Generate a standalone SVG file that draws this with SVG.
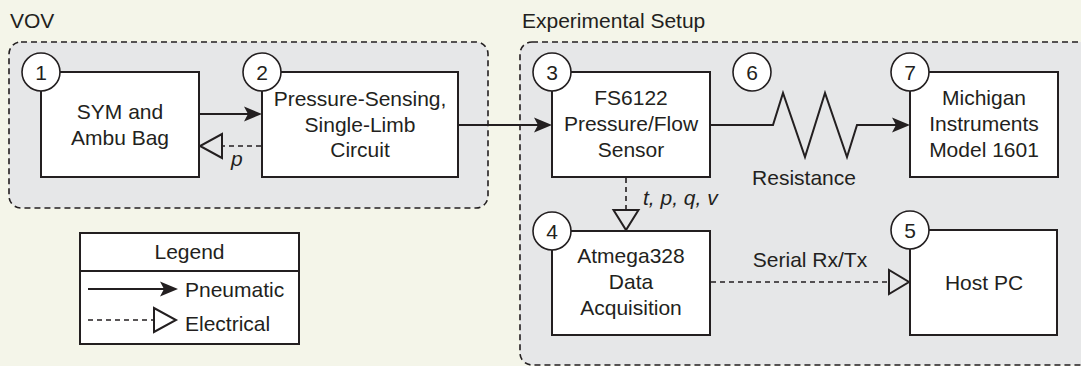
<svg xmlns="http://www.w3.org/2000/svg" width="1081" height="366" viewBox="0 0 1081 366">
  <style>
    text { font-family: "Liberation Sans", Arial, Helvetica, sans-serif; font-size: 21px; fill: #231f20; }
    .c { text-anchor: middle; }
    .it { font-style: italic; }
    .panel { fill: #e6e7e8; stroke: #231f20; stroke-width: 1.6; stroke-dasharray: 6 4; }
    .box { fill: #ffffff; stroke: #231f20; stroke-width: 2; }
    .num { fill: #ffffff; stroke: #231f20; stroke-width: 1.6; }
    .pn { fill: none; stroke: #231f20; stroke-width: 2; }
    .el { fill: none; stroke: #231f20; stroke-width: 1.6; stroke-dasharray: 5 4; }
    .tri { fill: none; stroke: #231f20; stroke-width: 2; stroke-linejoin: miter; }
    .head { fill: #231f20; stroke: none; }
  </style>

  <!-- page background -->
  <rect x="0" y="0" width="1081" height="366" fill="#f4f5e9"/>

  <!-- grouping panels -->
  <g id="panel-vov">
    <rect class="panel" x="9" y="42" width="479" height="166" rx="12"/>
    <text x="10" y="28">VOV</text>
  </g>
  <g id="panel-setup">
    <rect class="panel" x="520" y="42" width="600" height="323" rx="12"/>
    <text x="522" y="28">Experimental Setup</text>
  </g>

  <!-- connectors -->
  <g id="connectors">
    <!-- 1 -> 2 pneumatic -->
    <line class="pn" x1="199" y1="114" x2="250" y2="114"/>
    <path class="head" d="M262,114 L244,106.5 L248,114 L244,121.5 Z"/>
    <!-- 2 -> 1 electrical (p) -->
    <line class="el" x1="261" y1="146" x2="222" y2="146"/>
    <path class="tri" d="M222,134 L222,158 L200,146 Z"/>
    <text class="it" x="231" y="166">p</text>
    <!-- 2 -> 3 pneumatic -->
    <line class="pn" x1="458" y1="125" x2="540" y2="125"/>
    <path class="head" d="M552,125 L534,117.5 L538,125 L534,132.5 Z"/>
    <!-- 3 -> resistance -> 7 -->
    <polyline class="pn" points="710,125 773,125 783,93 805,157 825,93 847,157 857,125 898,125" stroke-linejoin="miter"/>
    <path class="head" d="M910,125 L892,117.5 L896,125 L892,132.5 Z"/>
    <text class="c" x="804" y="185">Resistance</text>
    <!-- 3 -> 4 electrical -->
    <line class="el" x1="626" y1="178" x2="626" y2="210"/>
    <path class="tri" d="M613.5,210 L638.5,210 L626,230 Z"/>
    <text class="it" x="643" y="205">t, p, q, v</text>
    <!-- 4 -> 5 electrical -->
    <line class="el" x1="711" y1="282" x2="889" y2="282"/>
    <path class="tri" d="M889,270 L889,294 L909,282 Z"/>
    <text class="c" x="810" y="267">Serial Rx/Tx</text>
  </g>

  <!-- nodes -->
  <g id="node-1">
    <rect class="box" x="41" y="72" width="158" height="105"/>
    <circle class="num" cx="41" cy="72" r="19"/>
    <text class="c" x="41" y="79.5">1</text>
    <text class="c" x="120" y="119">SYM and</text>
    <text class="c" x="120" y="145">Ambu Bag</text>
  </g>
  <g id="node-2">
    <rect class="box" x="262" y="72" width="196" height="105"/>
    <circle class="num" cx="262" cy="72" r="19"/>
    <text class="c" x="262" y="79.5">2</text>
    <text class="c" x="360" y="106">Pressure-Sensing,</text>
    <text class="c" x="360" y="132">Single-Limb</text>
    <text class="c" x="360" y="157">Circuit</text>
  </g>
  <g id="node-3">
    <rect class="box" x="552" y="72" width="158" height="105"/>
    <circle class="num" cx="552" cy="72" r="19"/>
    <text class="c" x="552" y="79.5">3</text>
    <text class="c" x="631" y="105">FS6122</text>
    <text class="c" x="631" y="131">Pressure/Flow</text>
    <text class="c" x="631" y="157">Sensor</text>
  </g>
  <g id="node-6">
    <circle class="num" cx="752" cy="72" r="19"/>
    <text class="c" x="752" y="79.5">6</text>
  </g>
  <g id="node-7">
    <rect class="box" x="910" y="72" width="148" height="105"/>
    <circle class="num" cx="910" cy="72" r="19"/>
    <text class="c" x="910" y="79.5">7</text>
    <text class="c" x="984" y="105">Michigan</text>
    <text class="c" x="984" y="131">Instruments</text>
    <text class="c" x="984" y="157">Model 1601</text>
  </g>
  <g id="node-4">
    <rect class="box" x="552" y="231" width="158" height="104"/>
    <circle class="num" cx="552" cy="231" r="19"/>
    <text class="c" x="552" y="238.5">4</text>
    <text class="c" x="631" y="263">Atmega328</text>
    <text class="c" x="631" y="289">Data</text>
    <text class="c" x="631" y="315">Acquisition</text>
  </g>
  <g id="node-5">
    <rect class="box" x="910" y="230" width="147" height="105"/>
    <circle class="num" cx="910" cy="230" r="19"/>
    <text class="c" x="910" y="237.5">5</text>
    <text class="c" x="984" y="290">Host PC</text>
  </g>

  <!-- legend -->
  <g id="legend">
    <rect class="box" x="80" y="233" width="219" height="111"/>
    <line x1="80" y1="271" x2="299" y2="271" stroke="#231f20" stroke-width="2"/>
    <text class="c" x="189.5" y="259">Legend</text>
    <line class="pn" x1="88" y1="289" x2="166" y2="289"/>
    <path class="head" d="M178,289 L160,281.5 L164,289 L160,296.5 Z"/>
    <text x="185" y="297">Pneumatic</text>
    <line class="el" x1="88" y1="320" x2="154" y2="320"/>
    <path class="tri" d="M154,308 L154,332 L176,320 Z"/>
    <text x="185" y="331">Electrical</text>
  </g>
</svg>
